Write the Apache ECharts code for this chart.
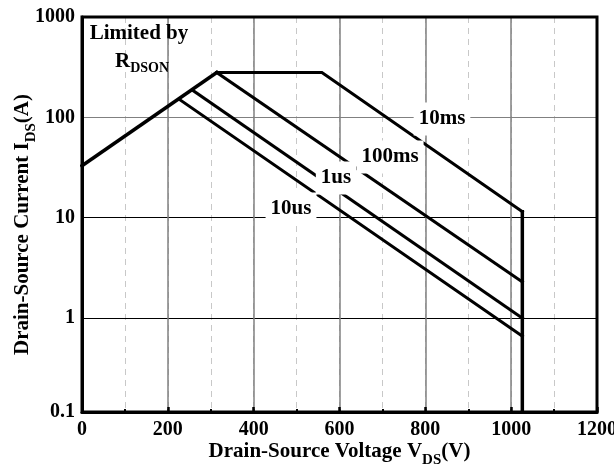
<!DOCTYPE html>
<html>
<head>
<meta charset="utf-8">
<script src="https://cdn.jsdelivr.net/npm/echarts@6/dist/echarts.min.js"></script>
<style>
html,body{margin:0;padding:0;background:#fff;}
#chart{width:614px;height:467px;}
</style>
</head>
<body>
<div id="chart"></div>
<script>
// ---- data (V, A) ----
var rdsonLimit = [[0, 33], [314, 280]];
var curve10ms = [[314, 280], [559, 280], [1026, 11.5]];
var breakdown = [[1026, 11.5], [1026, 0.1]];
var curve100ms = [[314, 280], [1026, 2.3]];
var curve1us = [[257, 187], [1026, 1.0]];
var curve10us = [[227, 151], [1026, 0.66]];
var xTicks = [0, 200, 400, 600, 800, 1000, 1200];
var yTickLabels = ['0.1', '1', '10', '100', '1000'];
var curveLabels = ['10ms', '100ms', '1us', '10us'];

var FONT = '"Liberation Serif","Times New Roman",serif';
var chart = echarts.init(document.getElementById('chart'), null, {renderer: 'canvas'});

function lineSeries(name, data, w) {
  return {
    name: name, type: 'line', data: data, showSymbol: false, symbol: 'none',
    xAxisIndex: 0, yAxisIndex: 0,
    lineStyle: {color: '#000', width: w || 3, cap: 'square', join: 'miter'},
    z: 5, animation: false, silent: true
  };
}

function boxLabel(text, x, y) {
  return {
    type: 'text', x: x, y: y, z: 100,
    style: {
      text: text, fill: '#000', align: 'center', verticalAlign: 'middle',
      font: 'bold 21px ' + FONT, backgroundColor: '#fff', padding: [7, 5, 5, 5]
    }
  };
}

var option = {
  animation: false,
  backgroundColor: '#fff',
  grid: {left: 82, right: 17, top: 17, bottom: 55, containLabel: false, outerBoundsMode: 'none',
    show: true, borderColor: '#000', borderWidth: 3, backgroundColor: 'transparent', z: 3},
  xAxis: [{
    type: 'value', min: xTicks[0], max: xTicks[xTicks.length - 1], interval: 200, z: 2,
    axisLine: {show: true, onZero: false, lineStyle: {color: '#000', width: 3}},
    axisTick: {show: true, inside: true, length: 5, lineStyle: {color: '#000', width: 2.5}},
    axisLabel: {margin: 8, color: '#000', fontFamily: FONT, fontWeight: 'bold', fontSize: 20,
      formatter: function (v) { return String(v); }},
    splitLine: {show: true, showMinLine: false, showMaxLine: false, lineStyle: {color: '#808080', width: 1.5}},
    name: '{a|Drain-Source Voltage V}{s|DS}{a|(V)}',
    nameLocation: 'middle', nameGap: 29, nameMoveOverlap: false,
    nameTextStyle: {
      rich: {
        a: {fontFamily: FONT, fontWeight: 'bold', fontSize: 21, lineHeight: 21, color: '#000', verticalAlign: 'top'},
        s: {fontFamily: FONT, fontWeight: 'bold', fontSize: 15, lineHeight: 15, color: '#000', verticalAlign: 'top', padding: [12, 0, 0, 0]}
      }
    }
  }, {
    type: 'value', min: xTicks[0], max: xTicks[xTicks.length - 1], interval: 100, position: 'bottom', z: 1,
    axisLine: {show: false},
    axisTick: {show: true, inside: true, length: 3, lineStyle: {color: '#000', width: 2}},
    axisLabel: {show: false},
    splitLine: {show: true, showMinLine: false, showMaxLine: false, lineStyle: {color: '#c8c8c8', width: 1, type: [6, 5]}}
  }],
  yAxis: {
    type: 'log', logBase: 10, min: 0.116, max: 1000, z: 2,
    axisLine: {show: true, lineStyle: {color: '#000', width: 3}},
    axisTick: {show: false},
    axisLabel: {
      margin: 7, color: '#000', fontFamily: FONT, fontWeight: 'bold', fontSize: 20,
      showMinLabel: true, showMaxLabel: true,
      formatter: function (v) {
        var e = Math.round(Math.log(v) / Math.LN10);
        return yTickLabels[Math.max(0, Math.min(4, e + 1))];
      }
    },
    splitLine: {show: true, showMinLine: false, showMaxLine: false, lineStyle: {color: ['#000', '#000', '#808080'], width: 1.2}},
    name: '{a|Drain-Source Current I}{s|DS}{a|(A)}',
    nameLocation: 'middle', nameGap: 49, nameMoveOverlap: false,
    nameTextStyle: {
      padding: [0, 20, 0, 0],
      rich: {
        a: {fontFamily: FONT, fontWeight: 'bold', fontSize: 21, lineHeight: 21, color: '#000', verticalAlign: 'top'},
        s: {fontFamily: FONT, fontWeight: 'bold', fontSize: 15, lineHeight: 15, color: '#000', verticalAlign: 'top', padding: [12, 0, 0, 0]}
      }
    }
  },
  series: [
    lineSeries('rdson', rdsonLimit, 3.5),
    lineSeries('10ms', curve10ms, 3),
    lineSeries('breakdown', breakdown, 3.5),
    lineSeries('100ms', curve100ms, 3),
    lineSeries('1us', curve1us, 3),
    lineSeries('10us', curve10us, 3)
  ],
  graphic: [
    boxLabel(curveLabels[0], 442, 119),
    boxLabel(curveLabels[1], 390, 157),
    boxLabel(curveLabels[2], 336, 178),
    boxLabel(curveLabels[3], 291, 209),
    {
      type: 'text', x: 139, y: 34, z: 100,
      style: {text: 'Limited by', fill: '#000', align: 'center', verticalAlign: 'middle', font: 'bold 21px ' + FONT}
    },
    {
      type: 'text', x: 142, y: 62, z: 100,
      style: {
        text: '{a|R}{s|DSON}', align: 'center', verticalAlign: 'middle',
        rich: {
          a: {fontFamily: FONT, fontWeight: 'bold', fontSize: 21, lineHeight: 21, fill: '#000', verticalAlign: 'top'},
          s: {fontFamily: FONT, fontWeight: 'bold', fontSize: 14, lineHeight: 14, fill: '#000', verticalAlign: 'top', padding: [10, 0, 0, 0]}
        }
      }
    }
  ]
};
chart.setOption(option);
</script>
</body>
</html>
